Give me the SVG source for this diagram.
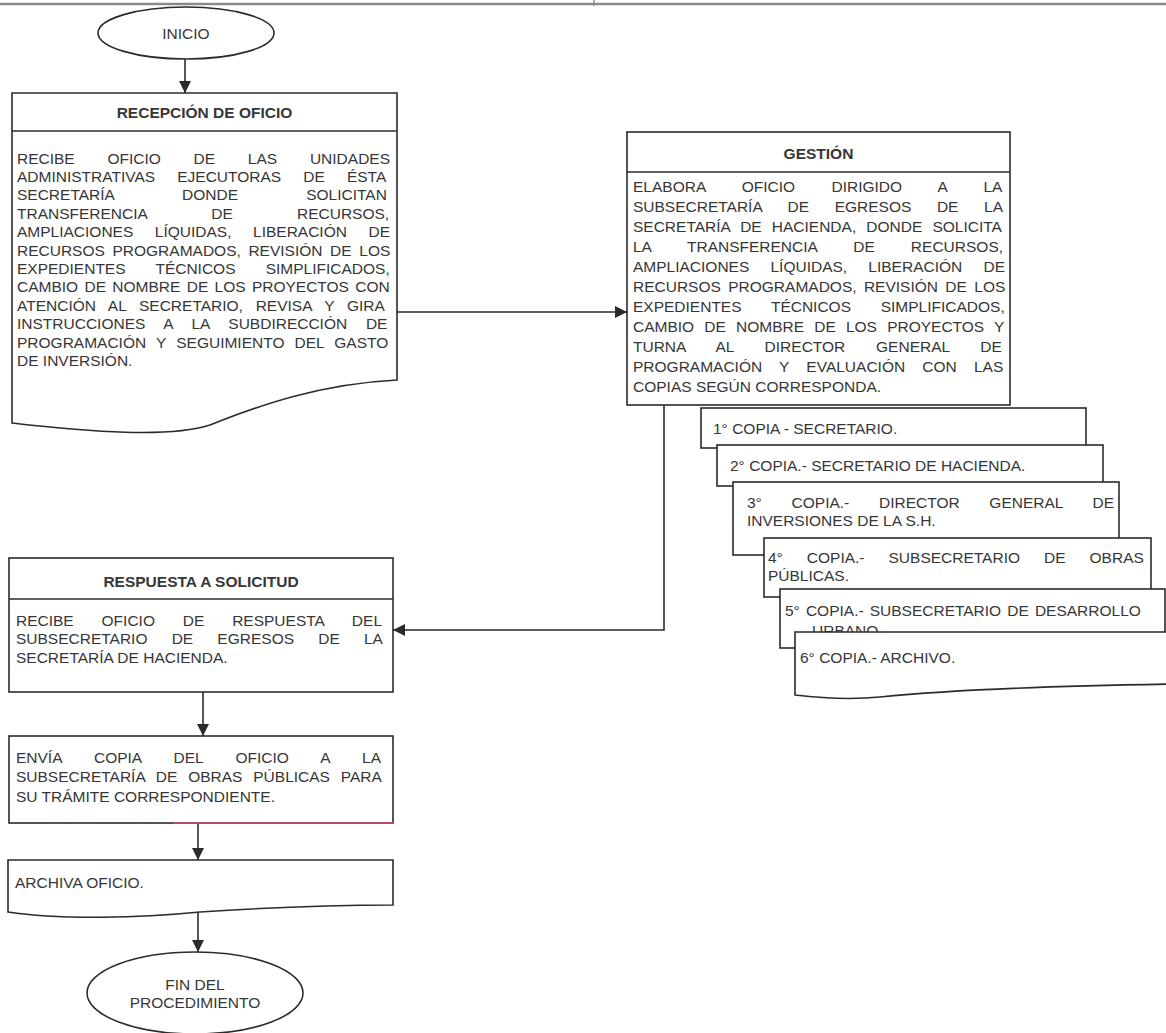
<svg xmlns="http://www.w3.org/2000/svg" width="1166" height="1033" viewBox="0 0 1166 1033">
<style>
.bx{fill:#fff;stroke:#2b2b2b;stroke-width:1.6}
.ln{fill:none;stroke:#2b2b2b;stroke-width:1.6}
.t{font-family:"Liberation Sans",Arial,sans-serif;font-size:15.5px;fill:#363636}
.b{font-weight:bold}
.c{text-anchor:middle}
</style>
<defs>
<marker id="ah" viewBox="0 0 12 12" markerWidth="12" markerHeight="12" refX="12" refY="6" orient="auto" markerUnits="userSpaceOnUse">
<path d="M0,0 L12,6 L0,12 z" fill="#2b2b2b"/>
</marker>
</defs>
<rect width="1166" height="1033" fill="#fff"/>
<g id="header">
<line x1="0" y1="4" x2="1166" y2="4" stroke="#8a8a8a" stroke-width="2.5"/>
<line x1="594" y1="0" x2="594" y2="6" stroke="#8a8a8a" stroke-width="1.5"/>
</g>

<g id="connectors">
<line class="ln" x1="185" y1="59" x2="185" y2="93" marker-end="url(#ah)"/>
<line class="ln" x1="397" y1="312" x2="627" y2="312" marker-end="url(#ah)"/>
<polyline class="ln" points="664,405 664,630 393,630" marker-end="url(#ah)"/>
<line class="ln" x1="203" y1="692" x2="203" y2="736" marker-end="url(#ah)"/>
<line class="ln" x1="198" y1="823" x2="198" y2="860" marker-end="url(#ah)"/>
<line class="ln" x1="198" y1="913" x2="198" y2="952" marker-end="url(#ah)"/>
</g>

<g id="inicio">
<ellipse class="bx" cx="186" cy="33" rx="88" ry="26"/>
<text class="t c" x="186" y="38.5">INICIO</text>
</g>

<g id="recepcion">
<path class="bx" d="M12,93 H397 V380 C320,384 260,405 210,425 C170,438 90,432 12,423 Z"/>
<line class="ln" x1="12" y1="131" x2="397" y2="131"/>
<text class="t b c" x="204.5" y="117.5">RECEPCIÓN DE OFICIO</text>
<text class="t" x="17" y="163.5" word-spacing="28.44">RECIBE OFICIO DE LAS UNIDADES</text>
<text class="t" x="17" y="181.9" word-spacing="17.82">ADMINISTRATIVAS EJECUTORAS DE ÉSTA</text>
<text class="t" x="17" y="200.3" word-spacing="63.77">SECRETARÍA DONDE SOLICITAN</text>
<text class="t" x="17" y="218.7" word-spacing="59.9">TRANSFERENCIA DE RECURSOS,</text>
<text class="t" x="17" y="237.1" word-spacing="17.24">AMPLIACIONES LÍQUIDAS, LIBERACIÓN DE</text>
<text class="t" x="17" y="255.5" word-spacing="3.32">RECURSOS PROGRAMADOS, REVISIÓN DE LOS</text>
<text class="t" x="17" y="273.9" word-spacing="25.87">EXPEDIENTES TÉCNICOS SIMPLIFICADOS,</text>
<text class="t" x="17" y="292.3" word-spacing="2.02">CAMBIO DE NOMBRE DE LOS PROYECTOS CON</text>
<text class="t" x="17" y="310.7" word-spacing="8.45">ATENCIÓN AL SECRETARIO, REVISA Y GIRA</text>
<text class="t" x="17" y="329.1" word-spacing="14.45">INSTRUCCIONES A LA SUBDIRECCIÓN DE</text>
<text class="t" x="17" y="347.5" word-spacing="5.83">PROGRAMACIÓN Y SEGUIMIENTO DEL GASTO</text>
<text class="t" x="17" y="365.9">DE INVERSIÓN.</text>
</g>

<g id="gestion">
<rect class="bx" x="627" y="132" width="383" height="273"/>
<line class="ln" x1="627" y1="172" x2="1010" y2="172"/>
<text class="t b c" x="818.5" y="158.5">GESTIÓN</text>
<text class="t" x="633" y="191.5" word-spacing="32.06">ELABORA OFICIO DIRIGIDO A LA</text>
<text class="t" x="633" y="211.5" word-spacing="21.29">SUBSECRETARÍA DE EGRESOS DE LA</text>
<text class="t" x="633" y="231.5" word-spacing="5.8">SECRETARÍA DE HACIENDA, DONDE SOLICITA</text>
<text class="t" x="633" y="251.5" word-spacing="31.85">LA TRANSFERENCIA DE RECURSOS,</text>
<text class="t" x="633" y="271.5" word-spacing="16.9">AMPLIACIONES LÍQUIDAS, LIBERACIÓN DE</text>
<text class="t" x="633" y="291.5" word-spacing="3.07">RECURSOS PROGRAMADOS, REVISIÓN DE LOS</text>
<text class="t" x="633" y="311.5" word-spacing="25.37">EXPEDIENTES TÉCNICOS SIMPLIFICADOS,</text>
<text class="t" x="633" y="331.5" word-spacing="5.87">CAMBIO DE NOMBRE DE LOS PROYECTOS Y</text>
<text class="t" x="633" y="351.5" word-spacing="26.47">TURNA AL DIRECTOR GENERAL DE</text>
<text class="t" x="633" y="371.5" word-spacing="12.9">PROGRAMACIÓN Y EVALUACIÓN CON LAS</text>
<text class="t" x="633" y="391.5">COPIAS SEGÚN CORRESPONDA.</text>
</g>

<g id="copia1">
<rect class="bx" x="701" y="408" width="385" height="40"/>
<text class="t" x="713" y="433.5">1° COPIA - SECRETARIO.</text>
</g>
<g id="copia2">
<rect class="bx" x="717" y="445" width="386" height="41"/>
<text class="t" x="730" y="470.5">2° COPIA.- SECRETARIO DE HACIENDA.</text>
</g>
<g id="copia3">
<rect class="bx" x="733" y="482" width="386" height="73"/>
<text class="t" x="747" y="507.5" word-spacing="25.42">3° COPIA.- DIRECTOR GENERAL DE</text>
<text class="t" x="747" y="525.5">INVERSIONES DE LA S.H.</text>
</g>
<g id="copia4">
<rect class="bx" x="764" y="538" width="387" height="59"/>
<text class="t" x="768" y="562.5" word-spacing="19.7">4° COPIA.- SUBSECRETARIO DE OBRAS</text>
<text class="t" x="768" y="580.5">PÚBLICAS.</text>
</g>
<g id="copia5">
<rect class="bx" x="780" y="589" width="385" height="59"/>
<text class="t" x="785" y="615.5" word-spacing="1.78">5° COPIA.- SUBSECRETARIO DE DESARROLLO</text>
<text class="t" x="812" y="636">URBANO.</text>
</g>
<g id="copia6">
<path class="bx" d="M795,632 H1172 V684 C1050,686 950,690 880,697 C850,700 820,698 795,695 Z"/>
<text class="t" x="800" y="662.5">6° COPIA.- ARCHIVO.</text>
</g>

<g id="respuesta">
<rect class="bx" x="9" y="558" width="384" height="134"/>
<line class="ln" x1="9" y1="599" x2="393" y2="599"/>
<text class="t b c" x="201" y="586.5">RESPUESTA A SOLICITUD</text>
<text class="t" x="16" y="625.5" word-spacing="23.53">RECIBE OFICIO DE RESPUESTA DEL</text>
<text class="t" x="16" y="644" word-spacing="19.87">SUBSECRETARIO DE EGRESOS DE LA</text>
<text class="t" x="16" y="662.5">SECRETARÍA DE HACIENDA.</text>
</g>

<g id="envia">
<rect class="bx" x="9" y="736" width="384" height="87"/>
<line x1="173" y1="823" x2="393" y2="823" stroke="#b84a63" stroke-width="1.8"/>
<text class="t" x="16" y="762.5" word-spacing="27.97">ENVÍA COPIA DEL OFICIO A LA</text>
<text class="t" x="16" y="782" word-spacing="6.55">SUBSECRETARÍA DE OBRAS PÚBLICAS PARA</text>
<text class="t" x="16" y="801.5">SU TRÁMITE CORRESPONDIENTE.</text>
</g>

<g id="archiva">
<path class="bx" d="M8,860 H393 V905 C330,905 260,908 200,912 C140,918 60,920 8,912 Z"/>
<text class="t" x="15" y="887.5">ARCHIVA OFICIO.</text>
</g>

<g id="fin">
<ellipse class="bx" cx="195" cy="993" rx="108" ry="41"/>
<text class="t c" x="195" y="989.5">FIN DEL</text>
<text class="t c" x="195" y="1007.5">PROCEDIMIENTO</text>
</g>
</svg>
